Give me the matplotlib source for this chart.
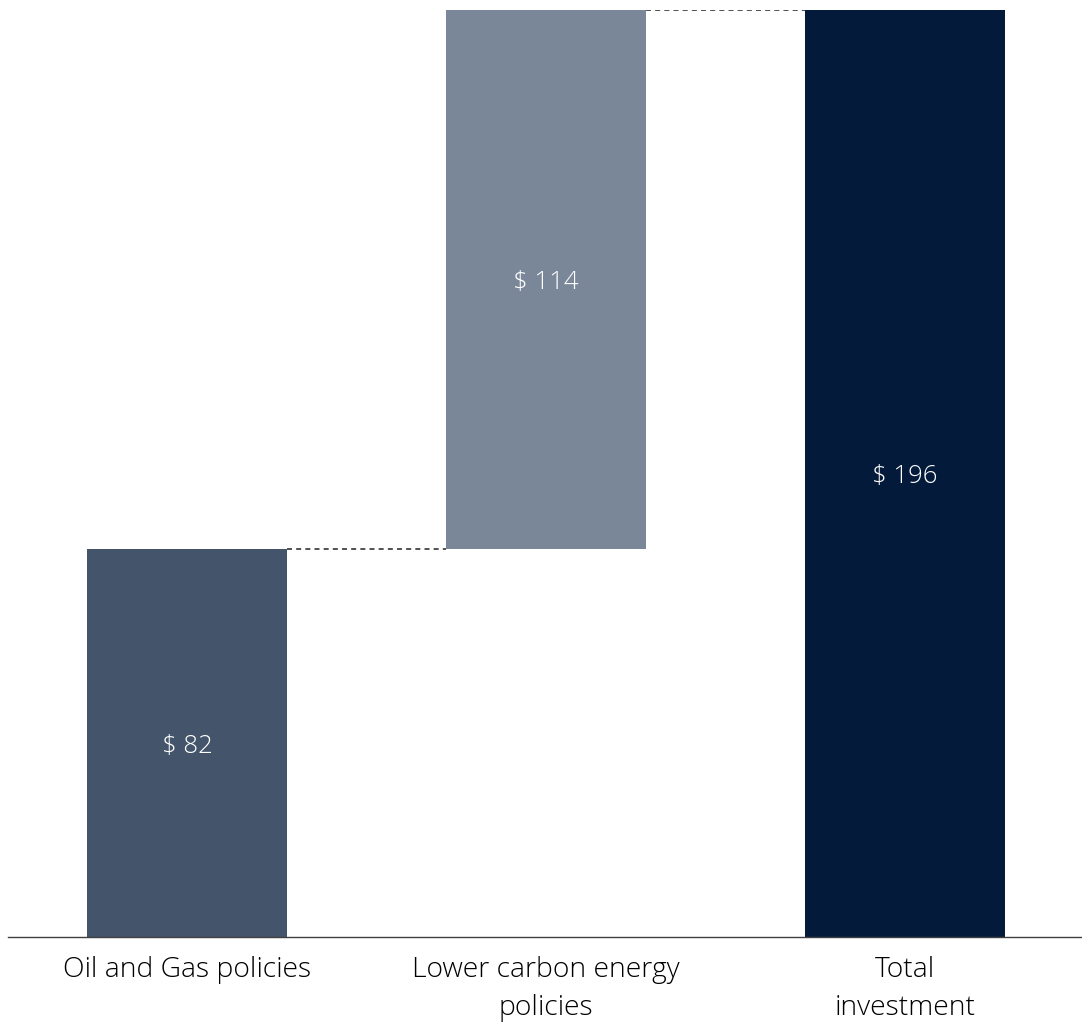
import matplotlib
matplotlib.use("Agg")
import matplotlib.pyplot as plt
from matplotlib.transforms import offset_copy

# Waterfall data (USD)
categories = ["Oil and Gas policies", "Lower carbon energy\npolicies", "Total\ninvestment"]
values = [82, 114, 196]
bar_colors = ["#44546A", "#7A8799", "#041A3A"]

plt.rcParams["font.family"] = ["Open Sans", "DejaVu Sans"]

fig = plt.figure(figsize=(10.82, 10.30), dpi=100)
W, H = 1082, 1030
ax = fig.add_axes([8 / W, (H - 937) / H, (1082 - 8) / W, (937 - 10) / H])

# bottoms: first bar from zero, second stacked on first, total from zero
bottoms = [0, values[0], 0]
x = list(range(len(categories)))
width = 200 / 359
ax.bar(x, values, width=width, bottom=bottoms, color=bar_colors, zorder=2)

# value labels centred inside each bar
label_tr = offset_copy(ax.transData, fig=fig, x=0, y=-3, units="dots")
for xi, v, b in zip(x, values, bottoms):
    ax.text(xi, b + v / 2, f"$ {v}", ha="center", va="center",
            color="white", fontsize=18.5, fontweight="light", transform=label_tr)

# connector lines between bars
half = width / 2
ax.plot([x[0] + half, x[1] - half], [values[0], values[0]],
        ls=(0, (3, 2.5)), color="#333333", lw=1.2)
ax.plot([x[1] + half, x[2] - half], [values[0] + values[1]] * 2,
        ls=(0, (3, 2.5)), color="#333333", lw=1.2)

ax.set_xlim(-(187 - 8) / 359, 2 + (1082 - 905) / 359)
ax.set_ylim(0, 196)

for s in ["top", "right", "left"]:
    ax.spines[s].set_visible(False)
ax.spines["bottom"].set_color("#404040")
ax.spines["bottom"].set_linewidth(1)
ax.set_yticks([])
ax.set_xticks(x)
ax.set_xticklabels(categories, fontsize=20.3, color="#000000", linespacing=1.45,
                   fontweight="light")
ax.tick_params(axis="x", length=0, pad=14)

fig.savefig("out.png", dpi=100)
